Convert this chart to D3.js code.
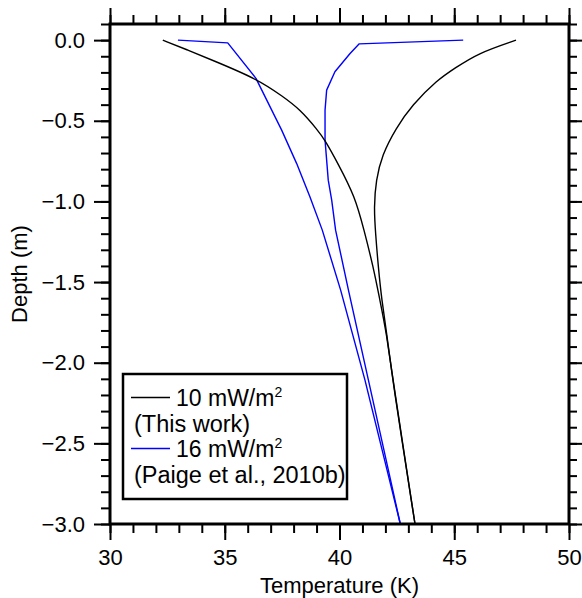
<!DOCTYPE html>
<html>
<head>
<meta charset="utf-8">
<script src="https://cdn.jsdelivr.net/npm/d3@7/dist/d3.min.js"></script>
<style>
  html, body { margin: 0; padding: 0; background: #fff; }
  svg { display: block; font-family: "Liberation Sans", Arial, sans-serif; }
</style>
</head>
<body>
<svg id="chart" width="582" height="598"></svg>
<script>
// Subsurface temperature envelopes (daily min / max) versus depth
const blackMaxDepth = [0, -0.081, -0.174, -0.248, -0.403, -0.546, -0.713, -0.868, -1.035, -1.197, -1.407, -1.612, -1.817, -2.108, -3.0];
const blackMaxTemp  = [47.69, 46.03, 45.03, 44.25, 43.16, 42.46, 41.85, 41.59, 41.50, 41.57, 41.69, 41.84, 42.06, 42.31, 43.29];

const blackMinDepth = [0, -0.062, -0.124, -0.237, -0.351, -0.43, -0.558, -0.62, -0.764, -0.971, -1.178, -1.405, -1.612, -1.818, -2.108, -3.0];
const blackMinTemp  = [32.30, 33.40, 34.45, 36.36, 37.55, 38.28, 39.05, 39.37, 39.93, 40.68, 41.07, 41.47, 41.76, 42.05, 42.33, 43.29];

const blueMaxDepth = [0, -0.023, -0.083, -0.196, -0.31, -0.434, -0.62, -0.868, -0.992, -1.178, -1.55, -2.108, -3.0];
const blueMaxTemp  = [45.39, 40.86, 40.46, 39.80, 39.44, 39.37, 39.37, 39.51, 39.66, 39.83, 40.39, 41.26, 42.65];

const blueMinDepth = [0, -0.017, -0.237, -0.558, -0.764, -0.971, -1.178, -1.55, -2.108, -3.0];
const blueMinTemp  = [32.96, 35.13, 36.36, 37.48, 38.13, 38.71, 39.25, 40.05, 41.11, 42.65];

const xMajorTicks = [30, 35, 40, 45, 50];
const yMajorTicks = [0.0, -0.5, -1.0, -1.5, -2.0, -2.5, -3.0];

const legendEntries = [
  { label: "10 mW/m", sup: "2", note: "(This work)", color: "#000000" },
  { label: "16 mW/m", sup: "2", note: "(Paige et al., 2010b)", color: "#0000ff" }
];

const svg = d3.select("#chart");
const plotL = 110, plotR = 569, plotT = 24, plotB = 524;
const fontSize = 22;

const x = d3.scaleLinear().domain([30, 50]).range([plotL, plotR]);
const y = d3.scaleLinear().domain([0.1, -3.0]).range([plotT, plotB]);

const xMinor = d3.range(30, 50.001, 1);
const yMinor = d3.range(0.1, -3.0001, -0.1).map(v => +v.toFixed(2));

function styleAxis(g) {
  g.select(".domain").remove();
  g.selectAll(".tick line").attr("stroke", "#000").attr("stroke-width", 2);
  g.selectAll(".tick text").attr("fill", "#000").style("font-size", fontSize + "px");
}

// minor ticks (no labels) on all four sides
svg.append("g").attr("transform", `translate(0,${plotB})`)
  .call(d3.axisBottom(x).tickValues(xMinor).tickSize(9).tickFormat(""))
  .call(styleAxis);
svg.append("g").attr("transform", `translate(0,${plotT})`)
  .call(d3.axisTop(x).tickValues(xMinor).tickSize(9).tickFormat(""))
  .call(styleAxis);
svg.append("g").attr("transform", `translate(${plotL},0)`)
  .call(d3.axisLeft(y).tickValues(yMinor).tickSize(9).tickFormat(""))
  .call(styleAxis);
svg.append("g").attr("transform", `translate(${plotR},0)`)
  .call(d3.axisRight(y).tickValues(yMinor).tickSize(8).tickFormat(""))
  .call(styleAxis);

// major ticks with labels
svg.append("g").attr("transform", `translate(0,${plotB})`)
  .call(d3.axisBottom(x).tickValues(xMajorTicks).tickSize(16).tickPadding(9).tickFormat(d3.format("d")))
  .call(styleAxis);
svg.append("g").attr("transform", `translate(0,${plotT})`)
  .call(d3.axisTop(x).tickValues(xMajorTicks).tickSize(16).tickFormat(""))
  .call(styleAxis);
svg.append("g").attr("transform", `translate(${plotL},0)`)
  .call(d3.axisLeft(y).tickValues(yMajorTicks).tickSize(16).tickPadding(9).tickFormat(d3.format(".1f")))
  .call(styleAxis);
svg.append("g").attr("transform", `translate(${plotR},0)`)
  .call(d3.axisRight(y).tickValues(yMajorTicks).tickSize(14).tickFormat(""))
  .call(styleAxis);

// profile lines: smooth model curves in black, layered profile in blue
const smooth = d3.line().x(d => x(d[1])).y(d => y(d[0])).curve(d3.curveBasis);
const straight = d3.line().x(d => x(d[1])).y(d => y(d[0]));

const series = [
  { depth: blueMinDepth, temp: blueMinTemp, color: "#0000ff", gen: straight },
  { depth: blueMaxDepth, temp: blueMaxTemp, color: "#0000ff", gen: straight },
  { depth: blackMinDepth, temp: blackMinTemp, color: "#000000", gen: smooth },
  { depth: blackMaxDepth, temp: blackMaxTemp, color: "#000000", gen: smooth }
];

svg.append("g").selectAll("path")
  .data(series)
  .join("path")
  .attr("fill", "none")
  .attr("stroke", d => d.color)
  .attr("stroke-width", 1.4)
  .attr("stroke-linejoin", "round")
  .attr("d", d => d.gen(d3.zip(d.depth, d.temp)));

// plot frame
svg.append("rect")
  .attr("x", plotL).attr("y", plotT)
  .attr("width", plotR - plotL).attr("height", plotB - plotT)
  .attr("fill", "none").attr("stroke", "#000").attr("stroke-width", 3);

// legend
const lg = svg.append("g");
lg.append("rect")
  .attr("x", 123).attr("y", 374).attr("width", 224).attr("height", 125)
  .attr("fill", "#fff").attr("stroke", "#000").attr("stroke-width", 2.5);

legendEntries.forEach((e, i) => {
  const base = 406 + i * 51;
  lg.append("line")
    .attr("x1", 131).attr("x2", 170)
    .attr("y1", base - 8.5).attr("y2", base - 8.5)
    .attr("stroke", e.color).attr("stroke-width", 1.4);
  const t = lg.append("text").attr("x", 176).attr("y", base)
    .style("font-size", "23px").attr("fill", "#000");
  t.append("tspan").text(e.label);
  t.append("tspan").attr("dy", -9).style("font-size", "14px").text(e.sup);
  lg.append("text").attr("x", 134).attr("y", base + 25.5)
    .style("font-size", "23.5px").attr("fill", "#000").text(e.note);
});

// axis titles
svg.append("text")
  .attr("x", (plotL + plotR) / 2).attr("y", 593)
  .attr("text-anchor", "middle").style("font-size", fontSize + "px").attr("fill", "#000")
  .text("Temperature (K)");
svg.append("text")
  .attr("transform", `translate(27,${(plotT + plotB) / 2}) rotate(-90)`)
  .attr("text-anchor", "middle").style("font-size", fontSize + "px").attr("fill", "#000")
  .text("Depth (m)");
</script>
</body>
</html>
